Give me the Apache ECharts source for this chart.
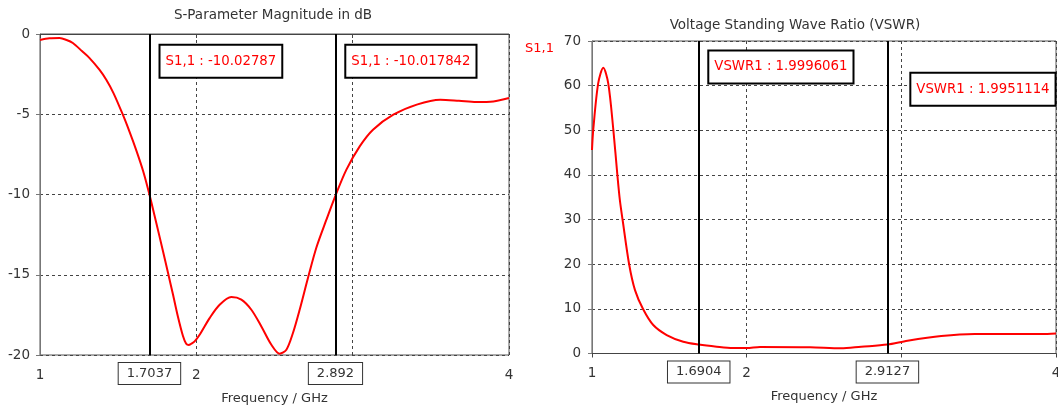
<!DOCTYPE html>
<html><head><meta charset="utf-8">
<script src="https://cdn.jsdelivr.net/npm/echarts@6/dist/echarts.min.js"></script>
<style>html,body{margin:0;padding:0;background:#fff;}#c{width:1058px;height:407px;}</style>
</head><body><div id="c"></div>
<script>
// ---- data ----
const freqS = [1.00,1.06,1.125,1.17,1.21,1.27,1.317,1.38,1.424,1.47,1.53,1.573,1.616,1.66,1.70,1.744,1.786,1.818,1.850,1.882,1.914,1.935,1.952,1.967,1.989,2.021,2.085,2.149,2.224,2.288,2.352,2.416,2.48,2.533,2.576,2.618,2.661,2.714,2.768,2.832,2.892,2.96,3.045,3.13,3.26,3.41,3.56,3.68,3.79,3.90,4.00];
const s11dB = [-0.37,-0.27,-0.25,-0.37,-0.56,-1.08,-1.5,-2.22,-2.85,-3.68,-5.03,-6.1,-7.25,-8.55,-10.0,-11.78,-13.5,-14.85,-16.2,-17.6,-18.8,-19.3,-19.38,-19.3,-19.15,-18.74,-17.7,-16.87,-16.39,-16.55,-17.18,-18.22,-19.36,-19.92,-19.67,-18.63,-17.18,-15.2,-13.3,-11.57,-10.02,-8.45,-7.0,-5.96,-5.03,-4.4,-4.09,-4.16,-4.24,-4.2,-3.99];
const freqV = [1.000,1.008,1.04,1.073,1.105,1.138,1.164,1.18,1.198,1.24,1.278,1.33,1.396,1.483,1.59,1.69,1.806,1.91,2.00,2.086,2.41,2.61,2.74,2.909,3.04,3.258,3.474,3.69,3.905,4.00];
const vswr = [45.6,50.1,60.5,64.0,60.5,50.1,40.0,34.4,29.9,20.0,14.2,9.97,6.38,4.14,2.64,2.0,1.52,1.23,1.23,1.46,1.40,1.16,1.52,2.0,2.87,3.92,4.37,4.37,4.37,4.5];
const xTicks = [1, 2, 3, 4];
const yTicksS = [-20, -15, -10, -5, 0];
const yTicksV = [0, 10, 20, 30, 40, 50, 60, 70];
const markerFreqS = [1.7037, 2.892];
const markerValS = [-10.02787, -10.017842];
const markerFreqV = [1.6904, 2.9127];
const markerValV = [1.9996061, 1.9951114];
const titles = ['S-Parameter Magnitude in dB', 'Voltage Standing Wave Ratio (VSWR)'];
const xName = 'Frequency / GHz';
const legendName = 'S1,1';

// ---- layout (not data) ----
const FONT = 'DejaVu Sans';
const labelAnchorS = [-1.7, -1.7];
const labelDistS = [10, 10];
const labelAnchorV = [64.2, 59.2];
const labelDistV = [10, 23];

const chart = echarts.init(document.getElementById('c'));

function xAxisCfg(gi) {
  return {
    type: 'value', gridIndex: gi, min: xTicks[0], max: xTicks[xTicks.length-1], interval: xTicks[1]-xTicks[0],
    name: xName, nameLocation: 'middle', nameGap: 37,
    nameTextStyle: {color: '#333', fontSize: 13, fontFamily: FONT},
    axisLine: {show: true, lineStyle: {color: '#444', width: 1}},
    axisTick: {show: true, inside: false, length: 4, lineStyle: {color: '#444'}},
    axisLabel: {color: '#333', fontSize: 13.5, fontFamily: FONT, margin: 13, showMinLabel: true, showMaxLabel: true},
    splitLine: {show: true, lineStyle: {color: '#444', type: [3, 3], width: 1}}
  };
}
function yAxisCfg(gi, ticks, margin) {
  return {
    type: 'value', gridIndex: gi, min: ticks[0], max: ticks[ticks.length-1], interval: ticks[1]-ticks[0],
    axisLine: {show: true, onZero: false, lineStyle: {color: '#777', width: 1}},
    axisTick: {show: true, inside: false, length: 4, lineStyle: {color: '#777'}},
    axisLabel: {color: '#333', fontSize: 13.5, fontFamily: FONT, margin: margin},
    splitLine: {show: true, lineStyle: {color: '#444', type: [3, 3], width: 1}}
  };
}
function markLineCfg(freqs) {
  return {
    silent: true, symbol: ['none', 'none'], animation: false,
    lineStyle: {color: '#000', width: 2, type: 'solid'},
    label: {show: true, position: 'start', distance: 8, formatter: '{b}', color: '#333', fontSize: 13, fontFamily: FONT,
      backgroundColor: '#fff', borderColor: '#333', borderWidth: 1, padding: [4, 8, 4, 8]},
    emphasis: {disabled: true},
    data: freqs.map(f => ({xAxis: f, name: String(f)}))
  };
}
function markPointCfg(freqs, vals, anchors, dists, prefix) {
  return {
    silent: true, animation: false, symbol: 'rect', symbolSize: 1,
    itemStyle: {color: 'rgba(0,0,0,0)'},
    label: {show: true, position: 'right', formatter: '{b}', color: '#ff0000', fontSize: 13.3, fontFamily: FONT,
      backgroundColor: '#fff', borderColor: '#000', borderWidth: 2, padding: [9, 5, 9, 5]},
    emphasis: {disabled: true},
    data: freqs.map((f, i) => ({coord: [f, anchors[i]], name: prefix + ' : ' + String(vals[i]), label: {distance: dists[i]}}))
  };
}

chart.setOption({
  animation: false,
  textStyle: {fontFamily: FONT},
  title: [
    {text: titles[0], left: 273, top: 8, textAlign: 'center', padding: 0, textStyle: {fontSize: 13.5, fontWeight: 'normal', color: '#333', fontFamily: FONT}},
    {text: titles[1], left: 795, top: 18, textAlign: 'center', padding: 0, textStyle: {fontSize: 13.5, fontWeight: 'normal', color: '#333', fontFamily: FONT}}
  ],
  graphic: [
    {type: 'text', left: 525, top: 42, style: {text: legendName, fill: '#ff0000', font: '13px "DejaVu Sans"'}}
  ],
  grid: [
    {left: 40, top: 34, width: 469, height: 321, show: true, borderColor: '#555', borderWidth: 1, backgroundColor: '#fff', containLabel: false, outerBoundsMode: 'none'},
    {left: 592, top: 41, width: 464, height: 312.5, show: true, borderColor: '#555', borderWidth: 1, backgroundColor: '#fff', containLabel: false, outerBoundsMode: 'none'}
  ],
  xAxis: [xAxisCfg(0), xAxisCfg(1)],
  yAxis: [yAxisCfg(0, yTicksS, 10), yAxisCfg(1, yTicksV, 11)],
  series: [
    {
      type: 'line', name: 'S-Parameter', xAxisIndex: 0, yAxisIndex: 0,
      data: freqS.map((f, i) => [f, s11dB[i]]),
      symbol: 'none', showSymbol: false, smooth: 0.3,
      lineStyle: {color: '#ff0000', width: 2}, itemStyle: {color: '#ff0000'},
      markLine: markLineCfg(markerFreqS),
      markPoint: markPointCfg(markerFreqS, markerValS, labelAnchorS, labelDistS, 'S1,1')
    },
    {
      type: 'line', name: legendName, xAxisIndex: 1, yAxisIndex: 1,
      data: freqV.map((f, i) => [f, vswr[i]]),
      symbol: 'none', showSymbol: false, smooth: 0.3,
      lineStyle: {color: '#ff0000', width: 2}, itemStyle: {color: '#ff0000'},
      markLine: markLineCfg(markerFreqV),
      markPoint: markPointCfg(markerFreqV, markerValV, labelAnchorV, labelDistV, 'VSWR1')
    }
  ]
});
</script></body></html>
